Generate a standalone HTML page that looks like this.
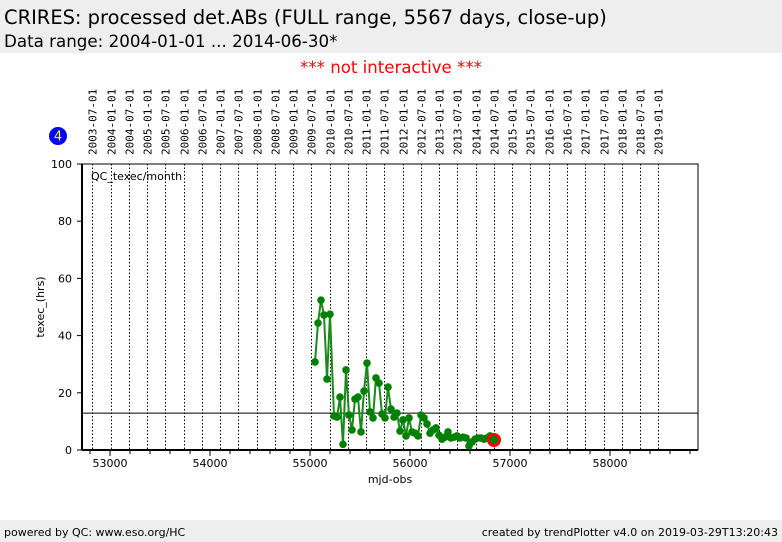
<!DOCTYPE html>
<html><head><meta charset="utf-8"><style>
body{margin:0;width:782px;height:542px;background:#fff;font-family:"DejaVu Sans","Liberation Sans",sans-serif;overflow:hidden;position:relative}
#hdr{position:absolute;left:0;top:0;width:782px;height:53px;background:#eee}
#t1{position:absolute;left:4px;top:6px;font-size:19.45px}
#t2{position:absolute;left:4px;top:31px;font-size:16.7px}
#ni{position:absolute;left:0;width:782px;top:58px;text-align:center;color:#f00;font-size:16.6px}
#ftr{position:absolute;left:0;top:520px;width:782px;height:22px;background:#eee;font-size:11px}
</style></head><body>
<div id="hdr">
<div id="t1">CRIRES: processed det.ABs (FULL range, 5567 days, close-up)</div>
<div id="t2">Data range: 2004-01-01 ... 2014-06-30*</div></div>
<div id="ni">*** not interactive ***</div>
<svg id="c" width="782" height="542" style="position:absolute;left:0;top:0"></svg>
<div id="ftr"><span style="position:absolute;left:4px;top:6px">powered by QC: www.eso.org/HC</span><span style="position:absolute;right:4px;top:6px">created by trendPlotter v4.0 on 2019-03-29T13:20:43</span></div>
<script>
const mjds=[55050,55080,55110,55140,55170,55200,55240,55270,55300,55330,55360,55390,55420,55450,55480,55510,55540,55570,55600,55630,55660,55690,55720,55750,55780,55810,55840,55870,55900,55930,55960,55990,56020,56050,56080,56110,56140,56170,56200,56230,56260,56290,56320,56350,56380,56410,56440,56470,56500,56530,56560,56590,56620,56650,56680,56710,56740,56770,56800,56830];
const vals=[30.8,44.4,52.4,47.2,24.8,47.5,11.9,11.5,18.5,2,28,12.2,7,17.8,18.5,6.3,20.6,30.4,13.3,11.2,25.2,23.4,12.6,11.2,22,14.3,11.5,12.9,6.6,10.5,4.9,11.2,6.3,5.9,4.9,12.2,11.2,9.1,5.9,7,7.7,5.2,3.8,4.5,6.3,4.2,4.5,4.9,4.2,4.5,4.2,1.4,2.8,3.8,4.2,4.2,3.8,4.2,4.9,4.5];
const lastPoint=[56840,3.5];
const refLine=12.9;
const yTicks=[0,20,40,60,80,100];
const xTicks=[53000,54000,55000,56000,57000,58000];
const svg=document.getElementById('c');const NS='http://www.w3.org/2000/svg';
const L=82,R=698,T=164,B=450;
const X=m=>L+(m-52720)/(58880-52720)*(R-L);
const Y=v=>B-v/100*(B-T);
function mk(t,a,p){const e=document.createElementNS(NS,t);for(const k in a)e.setAttribute(k,a[k]);(p||svg).appendChild(e);return e;}
for(let y=2003;y<=2019;y++)for(const mo of [0,6]){if(y==2003&&mo==0)continue;if(y==2019&&mo==6)continue;
const m=Date.UTC(y,mo,1)/86400000+40587;const x=Math.round(X(m))+0.5;
const g=mk('line',{x1:x,x2:x,y1:T,y2:B,stroke:'#000','stroke-dasharray':'1.5,2','stroke-width':1});

const lab=(y+'-'+(mo?'07':'01')+'-01');
const t=mk('text',{x:0,y:0,transform:`translate(${x+4},155) rotate(-90)`,'font-size':11,'font-family':'DejaVu Sans Mono,Liberation Mono,monospace'});t.textContent=lab;
}
const fr=mk('rect',{x:L,y:T,width:R-L,height:B-T,fill:'none',stroke:'#000'});

mk('line',{x1:L,x2:L,y1:T,y2:B,stroke:'#000','stroke-width':2});
mk('line',{x1:L,x2:R,y1:B,y2:B,stroke:'#000','stroke-width':2});
yTicks.forEach(v=>{const y=Y(v);mk('line',{x1:L-5,x2:L,y1:y,y2:y,stroke:'#000'});
const t=mk('text',{x:L-10,y:y+4,'text-anchor':'end','font-size':11});t.textContent=v;
});
for(let m=52800;m<=58800;m+=200){const x=X(m);const big=m%1000==0;mk('line',{x1:x,x2:x,y1:B,y2:B+(big?6:4),stroke:'#000'});}
xTicks.forEach(m=>{const t=mk('text',{x:X(m),y:B+17,'text-anchor':'middle','font-size':11});t.textContent=m;
});
const xt=mk('text',{x:390,y:483,'text-anchor':'middle','font-size':11});xt.textContent='mjd-obs';

const yt=mk('text',{x:0,y:0,transform:'translate(44,307) rotate(-90)','text-anchor':'middle','font-size':11});yt.textContent='texec_(hrs)';

const pl=mk('text',{x:91,y:180,'font-size':11});pl.textContent='QC_texec/month';

const rl=mk('line',{x1:L,x2:R,y1:Y(refLine),y2:Y(refLine),stroke:'#000'});

const pts=mjds.map((m,i)=>X(m)+','+Y(vals[i])).join(' ');
const ln=mk('polyline',{points:pts,fill:'none',stroke:'#1a8a1a','stroke-width':2});

mjds.forEach((m,i)=>{const c=mk('circle',{cx:X(m),cy:Y(vals[i]),r:3.8,fill:'#008000'});
});
const lp=mk('circle',{cx:X(lastPoint[0]),cy:Y(lastPoint[1]),r:5.5,fill:'#008000',stroke:'#f00','stroke-width':3});

const bd=mk('circle',{cx:58,cy:136,r:9,fill:'#00f'});

const bt=mk('text',{x:58,y:140.5,'text-anchor':'middle','font-size':13,fill:'#ff0'});bt.textContent='4';

</script>
</body></html>
